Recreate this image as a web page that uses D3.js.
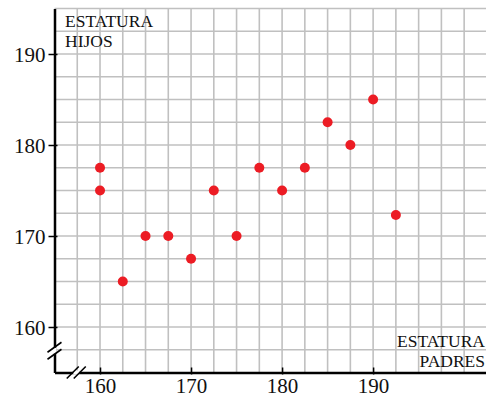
<!DOCTYPE html>
<html>
<head>
<meta charset="utf-8">
<script src="https://cdn.jsdelivr.net/npm/d3@7"></script>
<style>
  body { margin: 0; background: #fff; }
  svg { display: block; }
  svg text { font-family: "Liberation Serif", "Times New Roman", "DejaVu Serif", serif; }
</style>
</head>
<body>
<div id="chart"></div>
<script>
// estatura padres (x) / estatura hijos (y)
const padres = [160, 160, 162.5, 165, 167.5, 170, 172.5, 175, 177.5, 180, 182.5, 185, 187.5, 190, 192.5];
const hijos  = [177.5, 175, 165, 170, 170, 167.5, 175, 170, 177.5, 175, 177.5, 182.5, 180, 185, 172.3];
const xTicks = [160, 170, 180, 190];
const yTicks = [160, 170, 180, 190];
const yLabel = ["ESTATURA", "HIJOS"];
const xLabel = ["ESTATURA", "PADRES"];

const width = 486, height = 400;

const x = d3.scaleLinear().domain([155, 202.4]).range([54.5, 486]);
const y = d3.scaleLinear().domain([155, 195]).range([372.5, 8.5]);

const svg = d3.select("#chart")
    .append("svg")
    .attr("width", width)
    .attr("height", height);

// grid every 2.5
const gx = d3.range(157.5, 202.4, 2.5);
const gy = d3.range(157.5, 195.1, 2.5);

svg.append("g")
    .selectAll("line")
    .data(gx)
    .enter()
    .append("line")
    .attr("x1", d => x(d)).attr("x2", d => x(d))
    .attr("y1", y(155)).attr("y2", y(195))
    .attr("stroke", "#c0c0c0")
    .attr("stroke-width", 1.6);

svg.append("g")
    .selectAll("line")
    .data(gy)
    .enter()
    .append("line")
    .attr("x1", x(155)).attr("x2", width)
    .attr("y1", d => y(d)).attr("y2", d => y(d))
    .attr("stroke", "#c0c0c0")
    .attr("stroke-width", 1.6);

// axes
const xAxis = svg.append("g")
    .attr("transform", `translate(0,${y(155)})`)
    .call(d3.axisBottom(x).tickValues(xTicks).tickSize(0).tickPadding(6));
const yAxis = svg.append("g")
    .attr("transform", `translate(${x(155)},0)`)
    .call(d3.axisLeft(y).tickValues(yTicks).tickSize(0).tickPadding(9));

[xAxis, yAxis].forEach(a => {
    a.attr("font-family", null);
    a.select(".domain").attr("stroke", "#000").attr("stroke-width", 2.5);
    a.selectAll("text")
        .attr("font-size", 21)
        .attr("fill", "#111");
});
xAxis.selectAll(".tick").append("line")
    .attr("y1", 2).attr("y2", -5)
    .attr("stroke", "#000").attr("stroke-width", 1.5);
yAxis.selectAll(".tick").append("line")
    .attr("x1", -6).attr("x2", 3)
    .attr("stroke", "#000").attr("stroke-width", 1.5);
yAxis.selectAll(".tick text").attr("dy", "0.34em");

// axis breaks
const bx = x(157.5) - 1, by = y(157.5) + 1;
svg.append("rect").attr("x", x(155) - 2).attr("y", by - 3).attr("width", 4).attr("height", 6).attr("fill", "#fff");
svg.append("rect").attr("x", bx - 3).attr("y", y(155) - 2).attr("width", 6).attr("height", 4).attr("fill", "#fff");
[-3.5, 3.5].forEach(o => {
    svg.append("line")
        .attr("x1", x(155) - 7).attr("y1", by + o + 5)
        .attr("x2", x(155) + 7).attr("y2", by + o - 5)
        .attr("stroke", "#000").attr("stroke-width", 1.6);
    svg.append("line")
        .attr("x1", bx + o - 6).attr("y1", y(155) + 6)
        .attr("x2", bx + o + 6).attr("y2", y(155) - 6)
        .attr("stroke", "#000").attr("stroke-width", 1.6);
});

// points
svg.append("g")
    .selectAll("circle")
    .data(padres)
    .enter()
    .append("circle")
    .attr("cx", d => x(d))
    .attr("cy", (d, i) => y(hijos[i]))
    .attr("r", 5)
    .attr("fill", "#ec1c24");

// axis titles
svg.append("text")
    .attr("y", 27)
    .attr("font-size", 17.5).attr("fill", "#111")
    .selectAll("tspan").data(yLabel).enter().append("tspan")
    .attr("x", 65).attr("dy", (d, i) => i ? 20 : 0)
    .text(d => d);

svg.append("text")
    .attr("y", 347)
    .attr("text-anchor", "end")
    .attr("font-size", 17.5).attr("fill", "#111")
    .selectAll("tspan").data(xLabel).enter().append("tspan")
    .attr("x", 485).attr("dy", (d, i) => i ? 19.5 : 0)
    .text(d => d);
</script>
</body>
</html>
